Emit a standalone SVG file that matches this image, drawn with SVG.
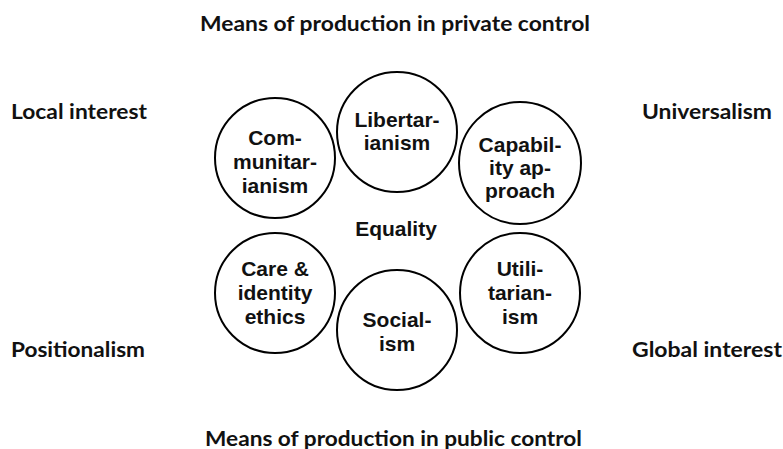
<svg xmlns="http://www.w3.org/2000/svg" width="783" height="449" viewBox="0 0 783 449">
<style>
.bg{fill:#ffffff}
.node circle{fill:#ffffff;stroke:#000000;stroke-width:2}
.in{font-family:"Liberation Sans",Arial,sans-serif;font-weight:bold;font-size:21px;fill:#111111;text-anchor:middle}
.out{font-family:Lato,"Open Sans",sans-serif;font-weight:bold;font-size:21px;fill:#111111}
</style>
<rect class="bg" x="0" y="0" width="783" height="449"/>
<g id="labels">
<text class="out" x="200" y="31" textLength="390" lengthAdjust="spacingAndGlyphs">Means of production in private control</text>
<text class="out" x="11" y="119" textLength="136" lengthAdjust="spacingAndGlyphs">Local interest</text>
<text class="out" x="642" y="119" textLength="130" lengthAdjust="spacingAndGlyphs">Universalism</text>
<text class="out" x="11" y="357" textLength="134" lengthAdjust="spacingAndGlyphs">Positionalism</text>
<text class="out" x="632" y="357" textLength="150" lengthAdjust="spacingAndGlyphs">Global interest</text>
<text class="out" x="205" y="446" textLength="377" lengthAdjust="spacingAndGlyphs">Means of production in public control</text>
</g>
<g id="connectors"></g>
<g id="libertarianism" class="node">
<circle cx="397" cy="132" r="60"/>
<text class="in" x="397" y="127">Libertar-</text>
<text class="in" x="397" y="150">ianism</text>
</g>
<g id="communitarianism" class="node">
<circle cx="275" cy="158" r="60"/>
<text class="in" x="275" y="145">Com-</text>
<text class="in" x="275" y="169">munitar-</text>
<text class="in" x="275" y="193">ianism</text>
</g>
<g id="capability" class="node">
<circle cx="520" cy="163" r="61"/>
<text class="in" x="520" y="152">Capabil-</text>
<text class="in" x="520" y="175">ity ap-</text>
<text class="in" x="520" y="198">proach</text>
</g>
<g id="care" class="node">
<circle cx="275" cy="293" r="60"/>
<text class="in" x="275" y="276">Care &amp;</text>
<text class="in" x="275" y="300">identity</text>
<text class="in" x="275" y="324">ethics</text>
</g>
<g id="utilitarianism" class="node">
<circle cx="520" cy="293" r="60"/>
<text class="in" x="520" y="276">Utili-</text>
<text class="in" x="520" y="300">tarian-</text>
<text class="in" x="520" y="324">ism</text>
</g>
<g id="socialism" class="node">
<circle cx="397" cy="330" r="60"/>
<text class="in" x="397" y="327">Social-</text>
<text class="in" x="397" y="351">ism</text>
</g>
<g id="equality">
<text class="in" x="396" y="236">Equality</text>
</g>
</svg>
